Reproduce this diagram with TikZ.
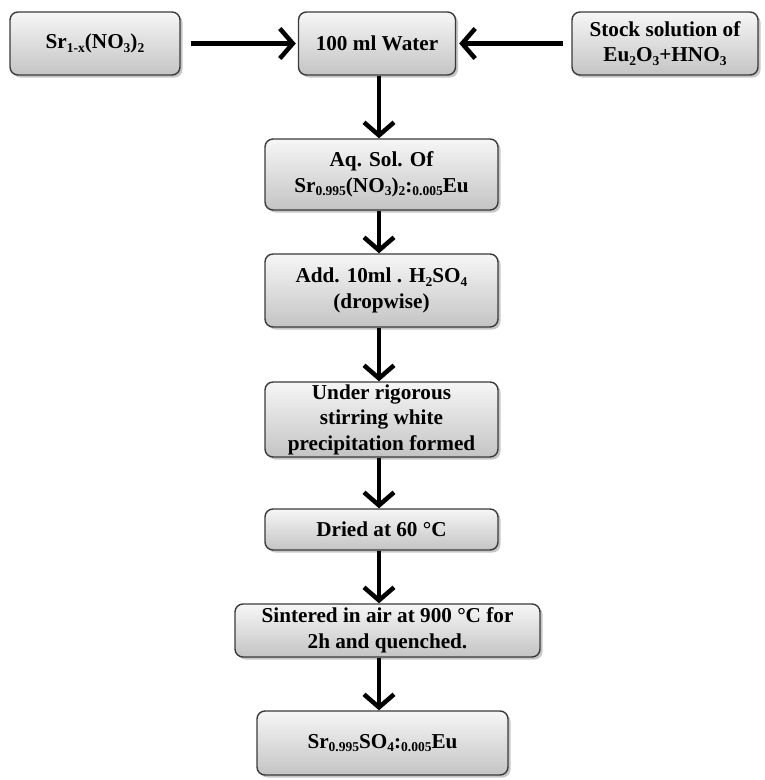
\documentclass[tikz,border=0pt]{standalone}
\usepackage{fontspec}
\setmainfont{Liberation Serif}
\usetikzlibrary{arrows.meta,shadows}
\newcommand\sbs[1]{\raisebox{-0.35ex}{\fontsize{13.5}{13.5}\selectfont #1}}
\definecolor{boxtop}{HTML}{F6F6F6}
\definecolor{boxbot}{HTML}{C4C4C4}
\definecolor{boxline}{HTML}{3A3A3A}
\tikzset{
  stepbox/.style={draw=boxline, line width=1.4pt, rounded corners=8pt,
    top color=boxtop, bottom color=boxbot, align=center,
    font=\fontsize{21.2}{25.5}\selectfont\bfseries, inner sep=2pt,
    drop shadow={shadow xshift=2.5pt, shadow yshift=-2.5pt, opacity=0.45, fill=gray}},
  flow/.style={line width=4.5pt, -{Straight Barb[length=13pt, width=30pt, line width=4.5pt]}}
}
\begin{document}
\begin{tikzpicture}[x=1pt,y=-1pt]
\useasboundingbox (0,0) rectangle (765,780);
\node[stepbox, minimum width=170pt, minimum height=63pt] (A) at (95,43.5) {Sr\sbs{1-x}(NO\sbs{3})\sbs{2}};
\node[stepbox, minimum width=157pt, minimum height=63pt] (W) at (377,43.5) {100 ml Water};
\node[stepbox, minimum width=186pt, minimum height=63pt] (S) at (665,43.5) {Stock solution of\\Eu\sbs{2}O\sbs{3}+HNO\sbs{3}};
\node[stepbox, minimum width=233pt, minimum height=71pt] (Aq) at (381.5,174.5) {Aq. Sol. Of\\Sr\sbs{0.995}(NO\sbs{3})\sbs{2}:\sbs{0.005}Eu};
\node[stepbox, minimum width=233pt, minimum height=73pt] (Ad) at (381.5,290.5) {Add. 10ml . H\sbs{2}SO\sbs{4}\\(dropwise)};
\node[stepbox, minimum width=233pt, minimum height=75pt] (U) at (381.5,419.5) {Under rigorous\\stirring white\\precipitation formed};
\node[stepbox, minimum width=233pt, minimum height=41pt] (D) at (381.5,529.5) {Dried at 60 °C};
\node[stepbox, minimum width=305pt, minimum height=53pt] (Si) at (387.5,630.5) {Sintered in air at 900 °C for\\2h and quenched.};
\node[stepbox, minimum width=251pt, minimum height=64pt] (F) at (382.5,743) {Sr\sbs{0.995}SO\sbs{4}:\sbs{0.005}Eu};
\coordinate (c1) at (379,0);
\draw[flow] ([xshift=10pt]A.east) -- ([xshift=-2pt]W.west);
\draw[flow] ([xshift=-8pt]S.west) -- ([xshift=3pt]W.east);
\draw[flow] (c1 |- W.south) -- (c1 |- Aq.north);
\draw[flow] (c1 |- Aq.south) -- (c1 |- Ad.north);
\draw[flow] (c1 |- Ad.south) -- (c1 |- U.north);
\draw[flow] (c1 |- U.south) -- (c1 |- D.north);
\draw[flow] (c1 |- D.south) -- (c1 |- Si.north);
\draw[flow] (c1 |- Si.south) -- (c1 |- F.north);
\end{tikzpicture}
\end{document}
